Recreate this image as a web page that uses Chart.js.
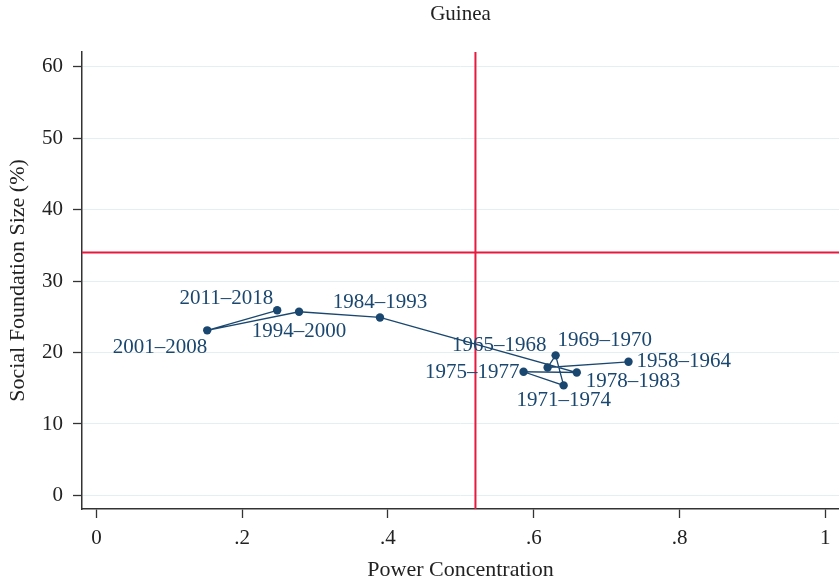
<!DOCTYPE html>
<html>
<head>
<meta charset="utf-8">
<script src="https://cdn.jsdelivr.net/npm/chart.js@4/dist/chart.umd.min.js"></script>
<style>
  html, body { margin: 0; padding: 0; background: #fff; overflow: hidden; }
  #wrap { width: 839px; height: 585px; }
</style>
</head>
<body>
<div id="wrap"><canvas id="chart" width="839" height="585"></canvas></div>
<script>
// Guinea: social foundation size vs. power concentration, by period
const periods = ['1958–1964', '1965–1968', '1969–1970', '1971–1974', '1975–1977',
                 '1978–1983', '1984–1993', '1994–2000', '2001–2008', '2011–2018'];
const powerConcentration = [0.730, 0.619, 0.630, 0.641, 0.586, 0.659, 0.389, 0.278, 0.152, 0.248];
const socialFoundation   = [18.7, 17.9, 19.6, 15.4, 17.3, 17.2, 24.9, 25.7, 23.1, 25.9];

const xTicks = [0, 0.2, 0.4, 0.6, 0.8, 1];
const xTickLabels = ['0', '.2', '.4', '.6', '.8', '1'];
const yTicks = [0, 10, 20, 30, 40, 50, 60];

// reference thresholds
const thresholdX = 0.52;
const thresholdY = 34;

// marker-label placement: [dx, dy, align]
const labelPlacement = [
  [8, 0, 'left'], [-1, -22, 'right'], [2, -15, 'left'], [0, 15, 'center'], [-4, 1, 'right'],
  [9, 9, 'left'], [0, -15, 'center'], [0, 20, 'center'], [0, 17, 'right'], [-4, -12, 'right']
];

const NAVY = '#1a476f';
const RED = '#e8193f';
const AXIS = '#333333';
const GRID = '#e4eff1';
const FONT = '"Liberation Serif", "Times New Roman", serif';

const points = powerConcentration.map((x, i) => ({ x: x, y: socialFoundation[i] }));

const thresholdLines = {
  id: 'thresholdLines',
  beforeDatasetsDraw(chart) {
    const { ctx, chartArea: a, scales: { x, y } } = chart;
    const px = x.getPixelForValue(thresholdX);
    const py = y.getPixelForValue(thresholdY);
    ctx.save();
    ctx.strokeStyle = RED;
    ctx.lineWidth = 2;
    ctx.beginPath();
    ctx.moveTo(px, a.top); ctx.lineTo(px, a.bottom);
    ctx.moveTo(a.left, py); ctx.lineTo(a.right, py);
    ctx.stroke();
    ctx.restore();
  }
};

const markerLabels = {
  id: 'markerLabels',
  afterDatasetsDraw(chart) {
    const { ctx } = chart;
    const meta = chart.getDatasetMeta(0);
    ctx.save();
    ctx.font = '21px ' + FONT;
    ctx.fillStyle = NAVY;
    ctx.textBaseline = 'middle';
    meta.data.forEach((el, i) => {
      const [dx, dy, align] = labelPlacement[i];
      ctx.textAlign = align;
      ctx.fillText(periods[i], el.x + dx, el.y + dy);
    });
    ctx.restore();
  }
};

new Chart(document.getElementById('chart'), {
  type: 'scatter',
  data: {
    datasets: [{
      label: 'Guinea',
      data: points,
      showLine: true,
      borderColor: NAVY,
      borderWidth: 1.3,
      backgroundColor: NAVY,
      pointRadius: 4.2,
      pointHoverRadius: 4.2,
      pointBorderWidth: 0,
      tension: 0,
      clip: false
    }]
  },
  options: {
    responsive: false,
    animation: false,
    events: [],
    layout: { padding: 0, autoPadding: false },
    plugins: {
      legend: { display: false },
      tooltip: { enabled: false },
      title: {
        display: true,
        text: 'Guinea',
        fullSize: false,
        color: '#222',
        font: { family: FONT, size: 21, weight: 'normal', lineHeight: 1.2 },
        padding: { top: 2, bottom: 24.8 }
      }
    },
    scales: {
      x: {
        type: 'linear',
        min: -0.0198,
        max: 1.0188,
        afterBuildTicks(scale) { scale.ticks = xTicks.map(v => ({ value: v })); },
        afterFit(scale) { scale.height = 76; scale.paddingLeft = 0; scale.paddingRight = 0; },
        ticks: {
          autoSkip: false,
          maxRotation: 0,
          color: '#222',
          padding: 8,
          font: { family: FONT, size: 21 },
          callback: (v) => xTickLabels[xTicks.indexOf(v)] ?? ''
        },
        grid: { drawOnChartArea: false, drawTicks: true, tickLength: 9, tickColor: AXIS, tickWidth: 1.3 },
        border: { display: true, color: AXIS, width: 1.5 },
        title: {
          display: true,
          text: 'Power Concentration',
          color: '#222',
          font: { family: FONT, size: 22, lineHeight: 1.2 },
          padding: { top: 0, bottom: 2 }
        }
      },
      y: {
        type: 'linear',
        min: -1.89,
        max: 62.03,
        afterBuildTicks(scale) { scale.ticks = yTicks.map(v => ({ value: v })); },
        afterFit(scale) { scale.width = 82; scale.paddingTop = 0; scale.paddingBottom = 0; },
        ticks: {
          autoSkip: false,
          color: '#222',
          padding: 10,
          font: { family: FONT, size: 21 },
          callback: (v) => String(v)
        },
        grid: { color: GRID, lineWidth: 1, drawTicks: true, tickLength: 9, tickColor: AXIS, tickWidth: 1.3 },
        border: { display: true, color: AXIS, width: 1.5 },
        title: {
          display: true,
          text: 'Social Foundation Size (%)',
          color: '#222',
          font: { family: FONT, size: 22, lineHeight: 1.2 },
          padding: { top: 5, bottom: 0 }
        }
      }
    }
  },
  plugins: [thresholdLines, markerLabels]
});
</script>
</body>
</html>
